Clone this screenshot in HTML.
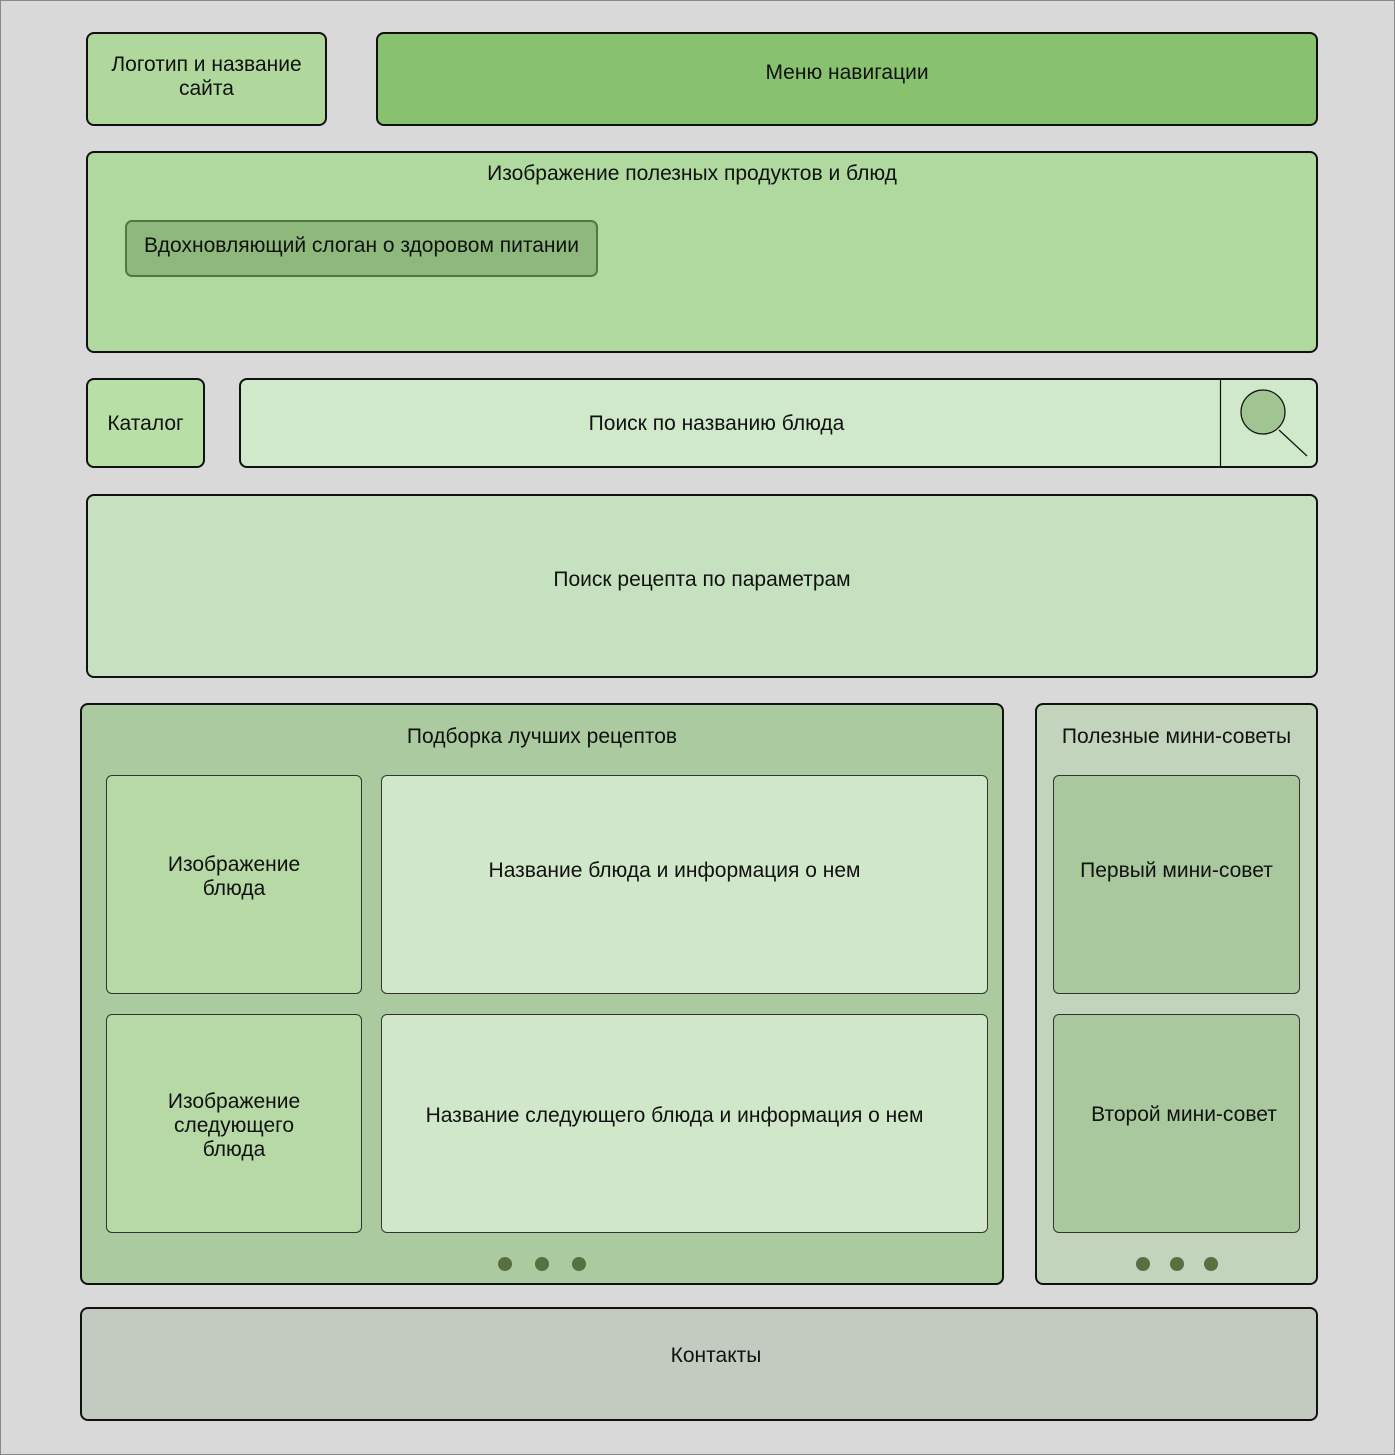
<!DOCTYPE html>
<html><head><meta charset="utf-8"><style>
body{margin:0;width:1395px;height:1455px;background:#d9d9d9;position:relative;overflow:hidden;font-family:"Liberation Sans","DejaVu Sans",sans-serif;font-size:21px;color:#111}
.f{position:absolute;left:0;top:0;width:1393px;height:1453px;border:1px solid #888}
.b{position:absolute;box-sizing:border-box;border:2px solid #111;border-radius:8px}
.t{position:absolute;left:0;right:0;text-align:center;line-height:24px;white-space:nowrap}
.s{border-width:1px;border-color:#333;border-radius:6px}
.d{position:absolute;width:14px;height:14px;border-radius:50%;background:#56703f}
</style></head><body>
<div class="f"></div>
<div class="b" style="left:86px;top:32px;width:241px;height:94px;background:#b0d79c"><div class="t" style="top:19px">Логотип и название<br>сайта</div></div>
<div class="b" style="left:376px;top:32px;width:942px;height:94px;background:#88c26f"><div class="t" style="top:27px">Меню навигации</div></div>
<div class="b" style="left:86px;top:151px;width:1232px;height:202px;background:#b0d99f"><div class="t" style="top:9px;left:-20px">Изображение полезных продуктов и блюд</div>
<div class="b" style="left:37px;top:67px;width:473px;height:57px;background:#8fb87c;border-width:2px;border-color:#4f7a3e;border-radius:7px"><div class="t" style="top:12px">Вдохновляющий слоган о здоровом питании</div></div></div>
<div class="b" style="left:86px;top:378px;width:119px;height:90px;background:#b8dfa6"><div class="t" style="top:32px">Каталог</div></div>
<div class="b" style="left:239px;top:378px;width:1079px;height:90px;background:#d0e9cb"><div class="t" style="top:32px;right:124px">Поиск по названию блюда</div>
<svg style="position:absolute;left:0;top:0" width="1075" height="86"><line x1="979.5" y1="0" x2="979.5" y2="86" stroke="#111" stroke-width="1.2"/><line x1="1038" y1="50" x2="1066" y2="76" stroke="#111" stroke-width="1.2"/><circle cx="1022" cy="32" r="22" fill="#a0c593" stroke="#111" stroke-width="1.2"/></svg></div>
<div class="b" style="left:86px;top:494px;width:1232px;height:184px;background:#c6e1bf"><div class="t" style="top:72px">Поиск рецепта по параметрам</div></div>
<div class="b" style="left:80px;top:703px;width:924px;height:582px;background:#abca9f"><div class="t" style="top:20px">Подборка лучших рецептов</div></div>
<div class="b s" style="left:106px;top:775px;width:256px;height:219px;background:#b7d9a5"><div class="t" style="top:77px">Изображение<br>блюда</div></div>
<div class="b s" style="left:381px;top:775px;width:607px;height:219px;background:#d0e8c9"><div class="t" style="top:83px;right:20px">Название блюда и информация о нем</div></div>
<div class="b s" style="left:106px;top:1014px;width:256px;height:219px;background:#b7d9a5"><div class="t" style="top:75px">Изображение<br>следующего<br>блюда</div></div>
<div class="b s" style="left:381px;top:1014px;width:607px;height:219px;background:#d0e8c9"><div class="t" style="top:89px;right:20px">Название следующего блюда и информация о нем</div></div>
<div class="d" style="left:498px;top:1257px"></div><div class="d" style="left:535px;top:1257px"></div><div class="d" style="left:572px;top:1257px"></div>
<div class="b" style="left:1035px;top:703px;width:283px;height:582px;background:#c2d4bb"><div class="t" style="top:20px">Полезные мини-советы</div></div>
<div class="b s" style="left:1053px;top:775px;width:247px;height:219px;background:#a9c89d"><div class="t" style="top:83px">Первый мини-совет</div></div>
<div class="b s" style="left:1053px;top:1014px;width:247px;height:219px;background:#a9c89d"><div class="t" style="top:88px;left:15px">Второй мини-совет</div></div>
<div class="d" style="left:1136px;top:1257px"></div><div class="d" style="left:1170px;top:1257px"></div><div class="d" style="left:1204px;top:1257px"></div>
<div class="b" style="left:80px;top:1307px;width:1238px;height:114px;background:#c3cbc0"><div class="t" style="top:35px;left:34px">Контакты</div></div>
</body></html>
